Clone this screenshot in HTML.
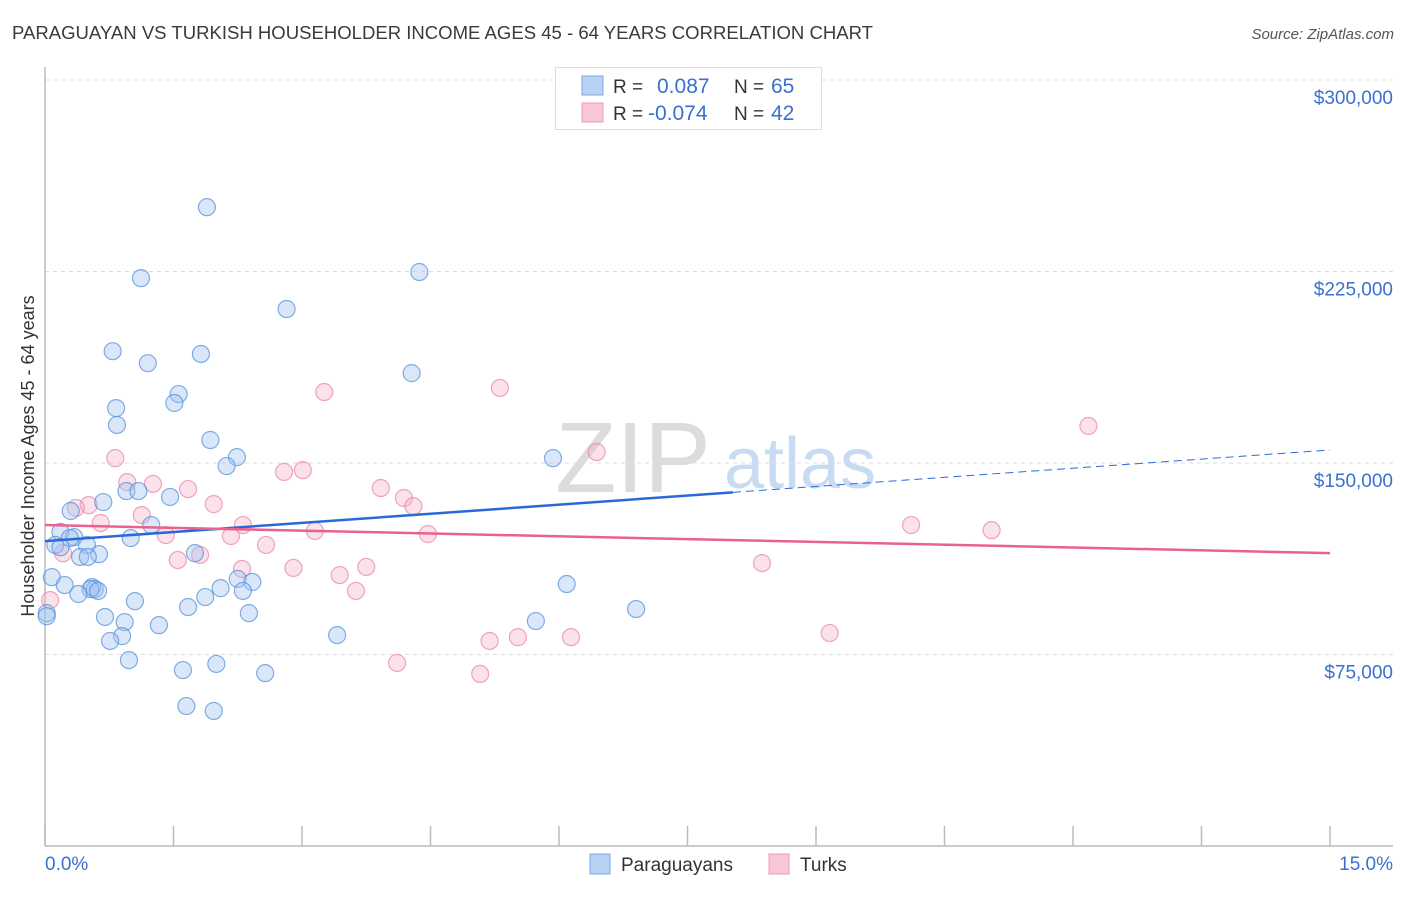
<!DOCTYPE html>
<html><head><meta charset="utf-8"><style>
body{margin:0;background:#fff;font-family:"Liberation Sans",sans-serif;}
svg text{font-family:"Liberation Sans",sans-serif;}
</style></head><body>
<svg id="chart" width="1406" height="892">
<text x="12" y="39" font-size="18" textLength="861" lengthAdjust="spacingAndGlyphs" fill="#3a3a3a">PARAGUAYAN VS TURKISH HOUSEHOLDER INCOME AGES 45 - 64 YEARS CORRELATION CHART</text>
<text x="1394" y="39" font-size="15" font-style="italic" fill="#555" text-anchor="end">Source: ZipAtlas.com</text>
<g>
<text x="633" y="492" font-size="100" font-family="Liberation Serif" fill="#dcdcdc" text-anchor="middle">ZIP</text>
<text x="800" y="488" font-size="72" fill="#c7dcf2" text-anchor="middle">atlas</text>
</g>
<g id="grid"></g>
<g id="axes"></g>
<g id="points"></g>
<g id="trends"></g>
<text transform="translate(34,456) rotate(-90)" font-size="18" fill="#333" text-anchor="middle">Householder Income Ages 45 - 64 years</text>
<g>
<rect x="555.5" y="67.5" width="266" height="62" fill="#fff" stroke="#ddd"/>
<rect x="582" y="76" width="21" height="19" fill="#b8d2f4" stroke="#7aa8e4"/>
<rect x="582" y="103" width="21" height="19" fill="#f9c6d6" stroke="#ee9ab8"/>
<text x="613" y="93" font-size="19" fill="#333">R =</text><text x="657" y="93" font-size="21" fill="#3a70d0">0.087</text>
<text x="734" y="93" font-size="19" fill="#333">N =</text><text x="771" y="93" font-size="21" fill="#3a70d0">65</text>
<text x="613" y="120" font-size="19" fill="#333">R =</text><text x="648" y="120" font-size="21" fill="#3a70d0">-0.074</text>
<text x="734" y="120" font-size="19" fill="#333">N =</text><text x="771" y="120" font-size="21" fill="#3a70d0">42</text>
</g>
<g>
<rect x="590" y="854" width="20" height="20" fill="#b8d2f4" stroke="#7aa8e4"/>
<text x="621" y="871" font-size="19" fill="#333">Paraguayans</text>
<rect x="769" y="854" width="20" height="20" fill="#f9c6d6" stroke="#ee9ab8"/>
<text x="800" y="871" font-size="19" fill="#333">Turks</text>
</g>
</svg>
<script>
const yTicks=[75000,150000,225000,300000];
const yTickLabels=["$75,000","$150,000","$225,000","$300,000"];
const xTickCount=[0,1.5,3,4.5,6,7.5,9,10.5,12,13.5,15];
const xLabels=["0.0%","15.0%"];
const blueX=[1.89,1.12,4.37,2.82,0.79,1.20,1.82,4.28,1.56,1.51,0.83,0.84,1.93,2.24,2.12,5.93,0.95,1.09,0.68,1.46,0.30,1.24,0.18,0.34,0.29,0.49,0.12,1.00,1.75,0.63,0.41,0.50,0.08,2.25,2.42,0.23,0.55,0.58,0.53,0.62,0.39,2.31,6.09,2.05,1.87,1.05,1.67,6.90,0.02,0.70,2.38,0.93,1.33,5.73,0.90,3.41,0.76,0.98,1.61,2.00,2.57,1.65,1.97,0.02,0.18];
const blueY=[250200,222400,224800,210300,193800,189100,192700,185200,177000,173500,171500,164900,159000,152300,148800,151900,139000,139000,134700,136700,131200,125700,123000,121000,120600,117900,117900,120600,114700,114300,113200,113200,105300,104600,103400,102200,101400,100600,100600,99900,98700,99900,102600,101000,97500,95900,93600,92800,91200,89700,91200,87700,86500,88100,82200,82600,80300,72800,68900,71300,67700,54800,52900,90000,117000];
const pinkX=[0.82,0.96,1.26,1.67,2.30,3.26,5.31,6.44,12.18,2.79,3.01,3.92,4.19,4.30,1.97,0.51,0.36,1.13,0.65,2.31,1.41,2.17,3.15,4.47,10.11,11.05,2.58,1.81,1.55,0.21,2.90,3.44,3.75,3.63,8.37,9.16,4.11,5.08,5.19,5.52,6.14,0.06];
const pinkY=[151900,142500,141800,139800,108500,177800,179400,154300,164500,146500,147200,140200,136300,133100,133900,133500,132400,129600,126500,125700,121800,121400,123400,122200,125700,123700,117900,114000,112000,114700,108900,106100,109300,99900,110800,83400,71700,67400,80300,81800,81800,96300];
const blueTrend=[119400,155100], blueSolidEnd=8.03;
const pinkTrend=[125700,114700];
const X0=45,X1=1330,Y0=846,YPER=191.5/75000;
const sx=v=>X0+(v/15)*(X1-X0), sy=v=>Y0-v*YPER;
const NS="http://www.w3.org/2000/svg";
function mk(tag,attrs,parent){const e=document.createElementNS(NS,tag);for(const k in attrs)e.setAttribute(k,attrs[k]);document.getElementById(parent).appendChild(e);return e;}
yTicks.forEach((t,i)=>{
 const l=mk('line',{x1:X0,x2:1393,y1:sy(t),y2:sy(t),stroke:'#ddd','stroke-dasharray':'4,4'},'grid');
 
 
 const tx=mk('text',{x:1393,y:sy(t)+24,'font-size':19,fill:'#3a70d0','text-anchor':'end'},'grid');
 tx.textContent=yTickLabels[i];
 
 
});
const ya=mk('line',{x1:X0,x2:X0,y1:67,y2:Y0,stroke:'#bbb','stroke-width':1.5},'axes');


const xa=mk('line',{x1:X0,x2:1393,y1:Y0,y2:Y0,stroke:'#bbb','stroke-width':1.5},'axes');


xTickCount.forEach(t=>{
 const l=mk('line',{x1:sx(t),x2:sx(t),y1:826,y2:Y0,stroke:'#bbb','stroke-width':1.5},'axes');
 
 
});
const xl0=mk('text',{x:45,y:870,'font-size':19,fill:'#3a70d0'},'axes');xl0.textContent=xLabels[0];


const xl1=mk('text',{x:1393,y:870,'font-size':19,fill:'#3a70d0','text-anchor':'end'},'axes');xl1.textContent=xLabels[1];


pinkX.forEach((x,i)=>{
 const c=mk('circle',{cx:sx(x),cy:sy(pinkY[i]),r:8.5,fill:'rgba(244,170,195,0.35)',stroke:'rgba(232,130,165,0.7)','stroke-width':1.2},'points');
 
 
});
blueX.forEach((x,i)=>{
 const c=mk('circle',{cx:sx(x),cy:sy(blueY[i]),r:8.5,fill:'rgba(160,195,240,0.4)',stroke:'rgba(80,140,220,0.7)','stroke-width':1.2},'points');
 
 
});
const bAt=x=>blueTrend[0]+(blueTrend[1]-blueTrend[0])*x/15;
const bl=mk('line',{x1:sx(0),y1:sy(bAt(0)),x2:sx(blueSolidEnd),y2:sy(bAt(blueSolidEnd)),stroke:'#2a6ad8','stroke-width':2.5},'trends');


const bd=mk('line',{x1:sx(blueSolidEnd),y1:sy(bAt(blueSolidEnd)),x2:sx(15),y2:sy(bAt(15)),stroke:'#2a6ad8','stroke-width':1,'stroke-dasharray':'8,5'},'trends');


const pl=mk('line',{x1:sx(0),y1:sy(pinkTrend[0]),x2:sx(15),y2:sy(pinkTrend[1]),stroke:'#e8628e','stroke-width':2.5},'trends');


</script>
</body></html>
